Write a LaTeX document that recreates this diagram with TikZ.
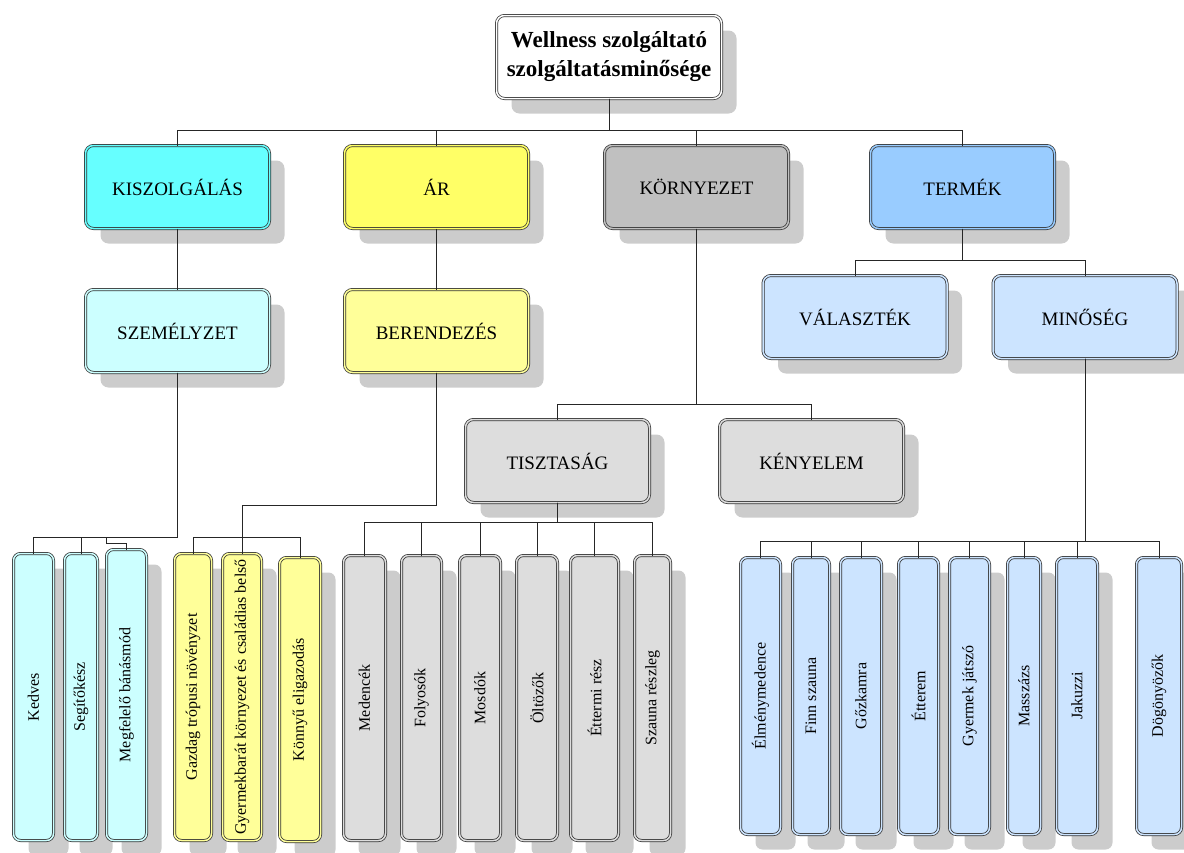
\documentclass[tikz,border=0pt]{standalone}
\usepackage{fontspec}
\setmainfont{Liberation Serif}
\usetikzlibrary{positioning,shadows}

\definecolor{kiszA}{HTML}{66FFFF}
\definecolor{kiszB}{HTML}{CCFFFF}
\definecolor{arA}{HTML}{FFFF66}
\definecolor{arB}{HTML}{FFFF99}
\definecolor{kornyA}{HTML}{C0C0C0}
\definecolor{kornyB}{HTML}{DDDDDD}
\definecolor{termA}{HTML}{99CCFF}
\definecolor{termB}{HTML}{CCE4FF}
\definecolor{shade}{HTML}{CCCCCC}

\begin{document}
\begin{tikzpicture}[
  x=1pt,y=1pt,
  box/.style={draw=black!80,line width=0.75pt,double distance=1.5pt,
    rounded corners=8pt,inner sep=0pt,outer sep=0pt,align=center,
    drop shadow={shadow xshift=15pt,shadow yshift=-15pt,fill=shade,opacity=1}},
  topbox/.style={box,fill=white,double=white,minimum width=225pt,
    minimum height=83pt,font=\fontsize{23}{29}\selectfont\bfseries},
  catbox/.style={box,fill=#1,double=#1,minimum width=184pt,
    minimum height=83pt,font=\fontsize{19}{23}\selectfont},
  leaf/.style={box,fill=#1,double=#1,rounded corners=7pt,
    minimum height=287pt,font=\fontsize{16}{19}\selectfont},
  link/.style={draw=black!85,line width=0.9pt}
]
\useasboundingbox (0,0) rectangle (1184,-852);

\node[topbox] (top) at (609,-57) {Wellness szolgáltató\\szolgáltatásminősége};

\node[catbox=kiszA,below=47pt of top,xshift=-431.5pt] (kisz) {KISZOLGÁLÁS};
\node[catbox=arA,right=75pt of kisz] (ar) {ÁR};
\node[catbox=kornyA,right=76pt of ar] (korny) {KÖRNYEZET};
\node[catbox=termA,right=82pt of korny] (term) {TERMÉK};

\node[catbox=kiszB,below=61pt of kisz] (szem) {SZEMÉLYZET};
\node[catbox=arB,below=61pt of ar] (beren) {BERENDEZÉS};
\node[catbox=termB,below=47pt of term,xshift=-107.5pt] (vala) {VÁLASZTÉK};
\node[catbox=termB,right=46pt of vala] (mino) {MINŐSÉG};
\node[catbox=kornyB,below=191pt of korny,xshift=-139pt] (tiszt) {TISZTASÁG};
\node[catbox=kornyB,right=70pt of tiszt] (keny) {KÉNYELEM};

\node[leaf=kiszB,minimum width=40pt,below=181pt of szem,xshift=-144pt] (kedv) {\rotatebox{90}{Kedves}};
\node[leaf=kiszB,minimum width=33pt,right=11pt of kedv] (segi) {\rotatebox{90}{Segítőkész}};
\node[leaf=kiszB,minimum width=40pt,minimum height=291pt,right=9pt of segi,yshift=2pt] (megf) {\rotatebox{90}{Megfelelő bánásmód}};
\node[leaf=arB,minimum width=37pt,right=28pt of megf,yshift=-2pt] (gazd) {\rotatebox{90}{Gazdag trópusi növényzet}};
\node[leaf=arB,minimum width=39pt,right=11pt of gazd] (gyer) {\rotatebox{90}{Gyermekbarát környezet és családias belső}};
\node[leaf=arB,minimum width=41pt,minimum height=284pt,right=18pt of gyer,yshift=-2.5pt] (konn) {\rotatebox{90}{Könnyű eligazodás}};

\node[leaf=kornyB,minimum width=42pt,minimum height=285pt,below=53pt of tiszt,xshift=-193pt] (mede) {\rotatebox{90}{Medencék}};
\node[leaf=kornyB,minimum width=40pt,minimum height=285pt,right=16pt of mede] (foly) {\rotatebox{90}{Folyosók}};
\node[leaf=kornyB,minimum width=41pt,minimum height=285pt,right=18pt of foly] (mosd) {\rotatebox{90}{Mosdók}};
\node[leaf=kornyB,minimum width=41pt,minimum height=285pt,right=16pt of mosd] (oltz) {\rotatebox{90}{Öltözők}};
\node[leaf=kornyB,minimum width=48pt,minimum height=285pt,right=13pt of oltz] (etrm) {\rotatebox{90}{Éttermi rész}};
\node[leaf=kornyB,minimum width=36pt,minimum height=285pt,right=16pt of etrm] (szau) {\rotatebox{90}{Szauna részleg}};

\node[leaf=termB,minimum width=40pt,minimum height=277pt,below=199pt of mino,xshift=-324.5pt] (elmn) {\rotatebox{90}{Élménymedence}};
\node[leaf=termB,minimum width=37pt,minimum height=277pt,right=12pt of elmn] (finn) {\rotatebox{90}{Finn szauna}};
\node[leaf=termB,minimum width=41pt,minimum height=277pt,right=11pt of finn] (gozk) {\rotatebox{90}{Gőzkamra}};
\node[leaf=termB,minimum width=40pt,minimum height=277pt,right=17pt of gozk] (ettr) {\rotatebox{90}{Étterem}};
\node[leaf=termB,minimum width=40pt,minimum height=277pt,right=11pt of ettr] (gyjt) {\rotatebox{90}{Gyermek játszó}};
\node[leaf=termB,minimum width=33pt,minimum height=277pt,right=18pt of gyjt] (masz) {\rotatebox{90}{Masszázs}};
\node[leaf=termB,minimum width=41pt,minimum height=277pt,right=16pt of masz] (jaku) {\rotatebox{90}{Jakuzzi}};
\node[leaf=termB,minimum width=45pt,minimum height=277pt,right=39pt of jaku] (dogo) {\rotatebox{90}{Dögönyözők}};

\draw[link] (top.south) -- ++(0,-31.5) -| (kisz.north);
\draw[link] (top.south) -- ++(0,-31.5) -| (ar.north);
\draw[link] (top.south) -- ++(0,-31.5) -| (korny.north);
\draw[link] (top.south) -- ++(0,-31.5) -| (term.north);
\draw[link] (kisz.south) -- (szem.north);
\draw[link] (ar.south) -- (beren.north);
\draw[link] (korny.south) -- ++(0,-175.5) -| (tiszt.north);
\draw[link] (korny.south) -- ++(0,-175.5) -| (keny.north);
\draw[link] (term.south) -- ++(0,-31.5) -| (vala.north);
\draw[link] (term.south) -- ++(0,-31.5) -| (mino.north);

\draw[link] (szem.south) -- ++(0,-164.5) -| (kedv.north);
\draw[link] (szem.south) -- ++(0,-164.5) -| (segi.north);
\draw[link] (szem.south) -- ++(0,-164.5) -| ++(-71,-6) -| (megf.north);
\draw[link] (beren.south) -- ++(0,-132.5) -| ++(-194.5,-32) -| (gazd.north);
\draw[link] (beren.south) -- ++(0,-132.5) -| (gyer.north);
\draw[link] (beren.south) -- ++(0,-132.5) -| ++(-194.5,-32) -| (konn.north);

\draw[link] (tiszt.south) -- ++(0,-19.5) -| (mede.north);
\draw[link] (tiszt.south) -- ++(0,-19.5) -| (foly.north);
\draw[link] (tiszt.south) -- ++(0,-19.5) -| (mosd.north);
\draw[link] (tiszt.south) -- ++(0,-19.5) -| (oltz.north);
\draw[link] (tiszt.south) -- ++(0,-19.5) -| (etrm.north);
\draw[link] (tiszt.south) -- ++(0,-19.5) -| (szau.north);

\draw[link] (mino.south) -- ++(0,-182.5) -| (elmn.north);
\draw[link] (mino.south) -- ++(0,-182.5) -| (finn.north);
\draw[link] (mino.south) -- ++(0,-182.5) -| (gozk.north);
\draw[link] (mino.south) -- ++(0,-182.5) -| (ettr.north);
\draw[link] (mino.south) -- ++(0,-182.5) -| (gyjt.north);
\draw[link] (mino.south) -- ++(0,-182.5) -| (masz.north);
\draw[link] (mino.south) -- ++(0,-182.5) -| (jaku.north);
\draw[link] (mino.south) -- ++(0,-182.5) -| (dogo.north);
\end{tikzpicture}
\end{document}
